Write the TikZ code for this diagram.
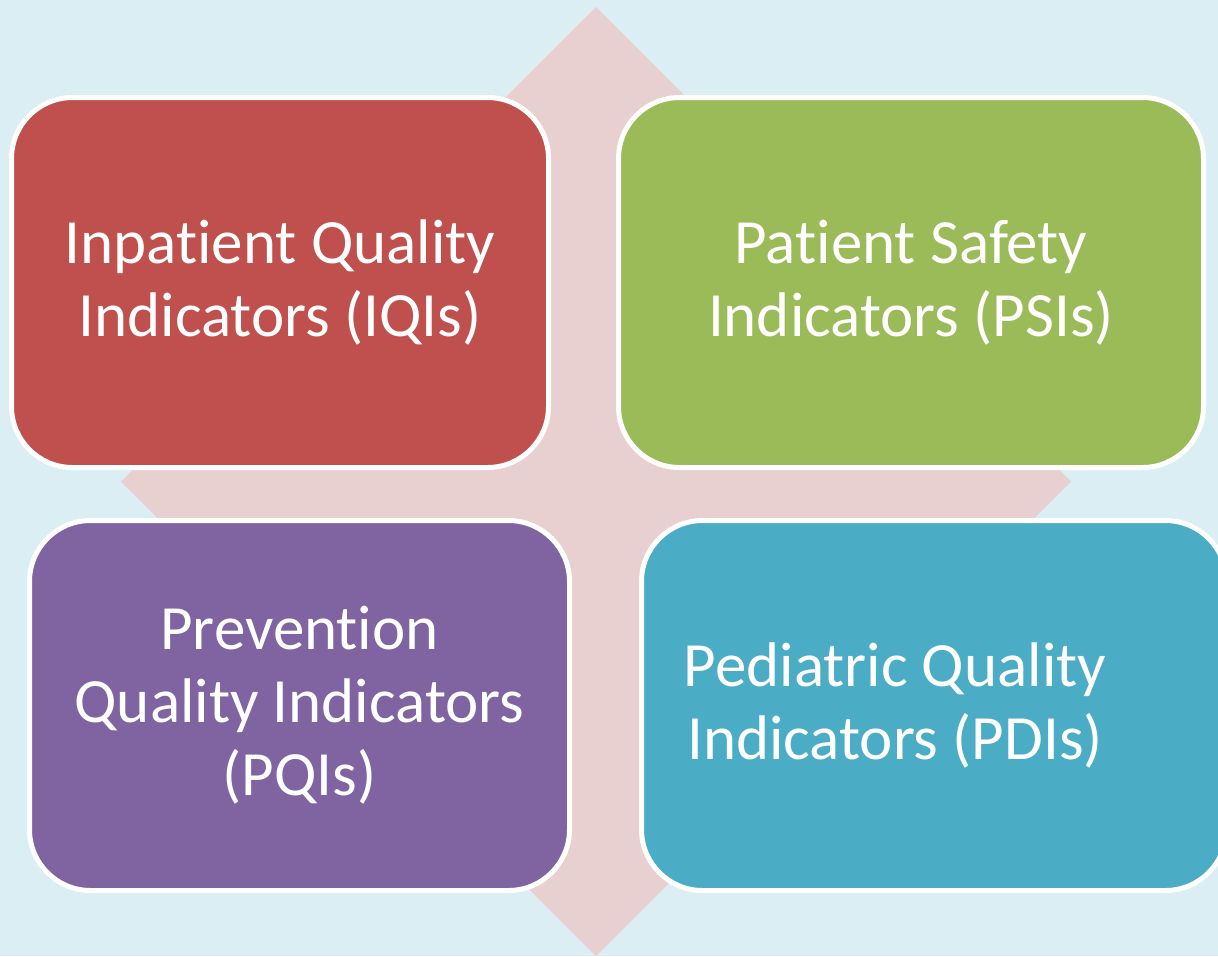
\documentclass[tikz,border=0pt]{standalone}
\usepackage{fontspec}
\setmainfont{Carlito}[Ligatures=NoCommon]
\definecolor{bgblue}{HTML}{DBEEF3}
\definecolor{diamondpink}{HTML}{E8D0D1}
\definecolor{iqired}{HTML}{C0504D}
\definecolor{psigreen}{HTML}{9BBB59}
\definecolor{pqipurple}{HTML}{8064A2}
\definecolor{pdiblue}{HTML}{4BACC6}
\begin{document}
\begin{tikzpicture}[x=1pt,y=-1pt,
  card/.style={rectangle, rounded corners=61pt, draw=white, line width=5pt,
    inner sep=0pt, outer sep=0pt, minimum height=370pt},
  cardtext/.style={text=white, align=center, inner sep=0pt,
    font=\fontsize{63}{73}\selectfont}]
  \useasboundingbox (0,0) rectangle (1218,956);
  \clip (0,0) rectangle (1218,956);
  % background
  \fill[bgblue] (0,0) rectangle (1218,956);
  % central diamond
  \coordinate (dtop) at (596,7);
  \coordinate (dright) at (1071,481.5);
  \coordinate (dbottom) at (596,956);
  \coordinate (dleft) at (121,481.5);
  \fill[diamondpink] (dtop) -- (dright) -- (dbottom) -- (dleft) -- cycle;
  % the four indicator cards
  \node[card, fill=iqired, minimum width=537pt] (iqi) at (280,282.5) {};
  \node[cardtext] (iqitext) at (iqi.center) {Inpatient Quality\\Indicators (IQIs)};
  \node[card, fill=psigreen, minimum width=585pt] (psi) at (911,282.5) {};
  \node[cardtext] (psitext) at (psi.center) {Patient Safety\\Indicators (PSIs)};
  \node[card, fill=pqipurple, minimum width=540pt] (pqi) at (299.5,705.5) {};
  \node[cardtext] (pqitext) at (pqi.center) {Prevention\\Quality Indicators\\(PQIs)};
  \node[card, fill=pdiblue, minimum width=585pt] (pdi) at (934,705.5) {};
  \node[cardtext] (pditext) at (895,705.5) {Pediatric Quality\\Indicators (PDIs)};
\end{tikzpicture}
\end{document}
